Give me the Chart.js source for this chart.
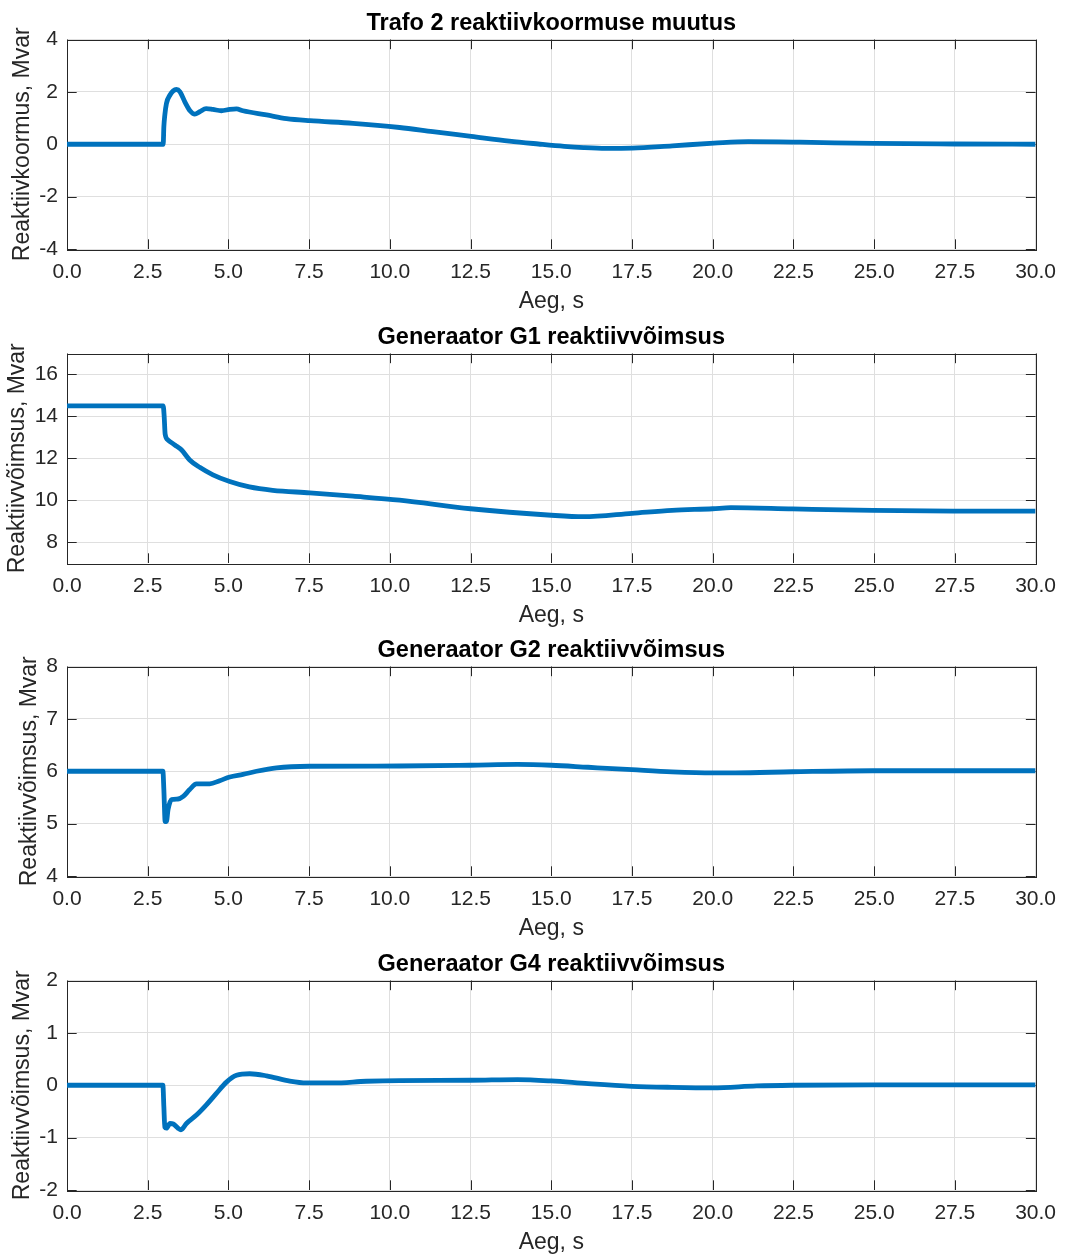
<!DOCTYPE html>
<html>
<head>
<meta charset="utf-8">
<script src="https://cdn.jsdelivr.net/npm/chart.js@4.4.1/dist/chart.umd.min.js"></script>
<style>
  body { margin: 0; background: #ffffff; }
  .panel { position: absolute; left: 0; width: 1067px; height: 315px; }
</style>
</head>
<body>
<div class="panel" style="top:0px"><canvas id="c1" width="1067" height="315"></canvas></div>
<div class="panel" style="top:314px"><canvas id="c2" width="1067" height="315"></canvas></div>
<div class="panel" style="top:627px"><canvas id="c3" width="1067" height="315"></canvas></div>
<div class="panel" style="top:941px"><canvas id="c4" width="1067" height="315"></canvas></div>
<script>
// Shared time-axis ticks (seconds)
const xTickValues = [0, 2.5, 5, 7.5, 10, 12.5, 15, 17.5, 20, 22.5, 25, 27.5, 30];

// Trafo 2 reactive load change, Mvar
const trafoTime = [0, 2.98, 3.0, 3.03, 3.08, 3.19, 3.29, 3.39, 3.5, 3.65, 3.81, 3.96, 4.11, 4.31, 4.52, 4.78, 5.04, 5.25, 5.45, 6.18, 6.8, 7.52, 8.86, 10.3, 11.33, 12.52, 13.7, 14.6, 15.4, 16.0, 16.69, 17.51, 18.75, 20.04, 21.1, 22.7, 25.0, 27.5, 30];
const trafoQ = [0, 0, 0.67, 1.12, 1.56, 1.88, 2.04, 2.09, 2.0, 1.62, 1.28, 1.15, 1.24, 1.36, 1.33, 1.28, 1.33, 1.35, 1.28, 1.12, 0.98, 0.9, 0.8, 0.64, 0.48, 0.3, 0.12, 0.01, -0.08, -0.13, -0.16, -0.15, -0.06, 0.04, 0.1, 0.08, 0.03, 0.01, 0];
const trafoYTicks = [-4, -2, 0, 2, 4];

// Generator G1 reactive power, Mvar
const g1Time = [0, 2.98, 3.01, 3.04, 3.13, 3.34, 3.55, 3.8, 4.11, 4.52, 5.04, 5.65, 6.37, 7.52, 8.86, 10.3, 12.5, 15.0, 16.0, 17.5, 18.74, 20.0, 20.56, 22.47, 24.96, 27.45, 30];
const g1Q = [14.5, 14.5, 14.0, 13.15, 12.87, 12.63, 12.39, 11.92, 11.57, 11.21, 10.89, 10.63, 10.47, 10.35, 10.19, 10.0, 9.59, 9.28, 9.21, 9.37, 9.51, 9.59, 9.64, 9.58, 9.51, 9.48, 9.48];
const g1YTicks = [8, 10, 12, 14, 16];

// Generator G2 reactive power, Mvar
const g2Time = [0, 2.97, 3.0, 3.04, 3.08, 3.13, 3.24, 3.44, 3.6, 3.8, 4.01, 4.42, 4.73, 5.04, 5.45, 5.87, 6.49, 7.52, 10.3, 12.5, 13.95, 15.0, 16.14, 17.5, 18.74, 20.0, 20.7, 22.47, 24.96, 30];
const g2Q = [6, 6, 5.65, 5.04, 5.04, 5.27, 5.46, 5.47, 5.52, 5.65, 5.76, 5.76, 5.82, 5.89, 5.94, 6.0, 6.065, 6.095, 6.1, 6.115, 6.13, 6.115, 6.076, 6.03, 5.99, 5.97, 5.97, 5.99, 6.01, 6.01];
const g2YTicks = [4, 5, 6, 7, 8];

// Generator G4 reactive power, Mvar
const g4Time = [0, 2.97, 3.0, 3.03, 3.08, 3.19, 3.29, 3.44, 3.53, 3.7, 4.01, 4.31, 4.62, 4.94, 5.25, 5.66, 6.18, 6.9, 7.42, 8.24, 9.27, 10.3, 12.5, 13.95, 15.0, 16.14, 17.5, 18.74, 20.0, 21.36, 22.47, 24.96, 30];
const g4Q = [0, 0, -0.41, -0.8, -0.82, -0.73, -0.74, -0.82, -0.85, -0.73, -0.57, -0.38, -0.16, 0.06, 0.19, 0.22, 0.18, 0.08, 0.045, 0.045, 0.076, 0.09, 0.095, 0.108, 0.082, 0.03, -0.02, -0.04, -0.05, -0.013, 0, 0.006, 0.006];
const g4YTicks = [-2, -1, 0, 1, 2];

const FONT = "'Liberation Sans', Arial, Helvetica, sans-serif";
const AXIS_COLOR = '#262626';
const GRID_COLOR = '#dfdfdf';
const LINE_COLOR = '#0072BD';

// Box around the plot area with inward tick marks on all four sides
const framePlugin = {
  id: 'frame',
  beforeDatasetsDraw(chart) {
    const { ctx, chartArea: a, scales: { x, y } } = chart;
    const L = 9.7;
    ctx.save();
    ctx.strokeStyle = AXIS_COLOR;
    ctx.lineWidth = 1;
    ctx.beginPath();
    x.ticks.forEach(t => {
      const px = Math.round(x.getPixelForValue(t.value)) + 0.5;
      ctx.moveTo(px, a.bottom); ctx.lineTo(px, a.bottom - L);
      ctx.moveTo(px, a.top); ctx.lineTo(px, a.top + L);
    });
    y.ticks.forEach(t => {
      const py = Math.round(y.getPixelForValue(t.value)) + 0.5;
      ctx.moveTo(a.left, py); ctx.lineTo(a.left + L, py);
      ctx.moveTo(a.right, py); ctx.lineTo(a.right - L, py);
    });
    ctx.stroke();
    ctx.strokeRect(Math.round(a.left) + 0.5, Math.round(a.top) + 0.5, Math.round(a.width), Math.round(a.height));
    ctx.restore();
  }
};

function makePanel(id, title, yLabel, times, values, yMin, yMax, yTicks, yTitlePad) {
  const points = times.map((t, i) => ({ x: t, y: values[i] }));
  new Chart(document.getElementById(id), {
    type: 'line',
    data: {
      datasets: [{
        data: points,
        borderColor: LINE_COLOR,
        borderWidth: 4.8,
        pointRadius: 0,
        cubicInterpolationMode: 'monotone',
        fill: false
      }]
    },
    options: {
      responsive: false,
      animation: false,
      devicePixelRatio: 1,
      layout: { padding: { left: 0, right: 30, top: 0, bottom: 0 } },
      plugins: {
        legend: { display: false },
        tooltip: { enabled: false },
        title: {
          display: true,
          fullSize: false,
          text: title,
          color: '#000000',
          font: { family: FONT, size: 23.5, weight: 'bold' },
          padding: { top: 9.6, bottom: 1.7 }
        }
      },
      scales: {
        x: {
          type: 'linear',
          min: 0,
          max: 30,
          afterBuildTicks: s => { s.ticks = xTickValues.map(v => ({ value: v })); },
          afterFit: s => { s.height = 66; },
          grid: { color: GRID_COLOR, lineWidth: 1, drawTicks: false },
          border: { display: false },
          ticks: {
            color: AXIS_COLOR,
            font: { family: FONT, size: 21 },
            padding: 11,
            maxRotation: 0,
            autoSkip: false,
            callback: v => Number(v).toFixed(1)
          },
          title: {
            display: true,
            text: 'Aeg, s',
            color: AXIS_COLOR,
            font: { family: FONT, size: 23 },
            padding: { top: 0, bottom: 0 }
          }
        },
        y: {
          type: 'linear',
          min: yMin,
          max: yMax,
          afterBuildTicks: s => { s.ticks = yTicks.map(v => ({ value: v })); },
          afterFit: s => { s.width = 67; },
          grid: { color: GRID_COLOR, lineWidth: 1, drawTicks: false },
          border: { display: false },
          ticks: {
            color: AXIS_COLOR,
            font: { family: FONT, size: 21 },
            padding: 9,
            callback: v => String(v)
          },
          title: {
            display: true,
            text: yLabel,
            color: AXIS_COLOR,
            font: { family: FONT, size: 23 },
            padding: { top: yTitlePad, bottom: 0 }
          }
        }
      }
    },
    plugins: [framePlugin]
  });
}

makePanel('c1', 'Trafo 2 reaktiivkoormuse muutus', 'Reaktiivkoormus, Mvar', trafoTime, trafoQ, -4, 4, trafoYTicks, 8.7);
makePanel('c2', 'Generaator G1 reaktiivvõimsus', 'Reaktiivvõimsus, Mvar', g1Time, g1Q, 7, 17, g1YTicks, 4);
makePanel('c3', 'Generaator G2 reaktiivvõimsus', 'Reaktiivvõimsus, Mvar', g2Time, g2Q, 4, 8, g2YTicks, 16);
makePanel('c4', 'Generaator G4 reaktiivvõimsus', 'Reaktiivvõimsus, Mvar', g4Time, g4Q, -2, 2, g4YTicks, 8.7);
</script>
</body>
</html>
